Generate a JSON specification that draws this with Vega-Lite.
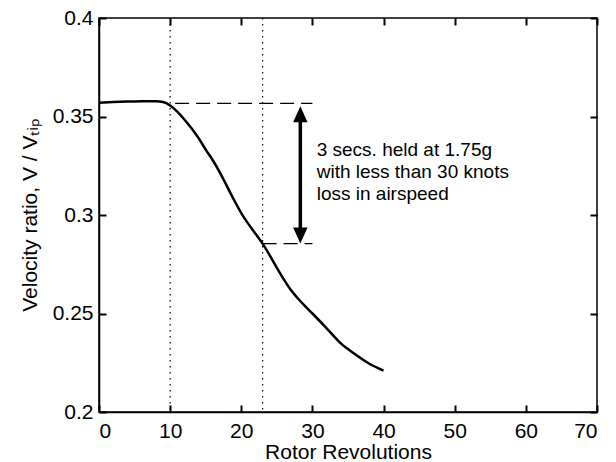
{
  "$schema": "https://vega.github.io/schema/vega-lite/v6.json",
  "width": 498,
  "height": 394,
  "autosize": "none",
  "padding": {"left": 99, "top": 18, "right": 19, "bottom": 50},
  "background": "white",
  "config": {
    "view": {"stroke": "black", "strokeWidth": 1.5},
    "font": "Liberation Sans",
    "axis": {
      "grid": false,
      "domainColor": "black",
      "domainWidth": 1.5,
      "labelColor": "black",
      "titleColor": "black",
      "labelFont": "Liberation Sans",
      "titleFont": "Liberation Sans",
      "labelFontSize": 21,
      "titleFontSize": 21,
      "titleFontWeight": "normal"
    }
  },
  "datasets": {
    "curve": [
      {"rev": 0, "ratio": 0.3570},
      {"rev": 2, "ratio": 0.3573},
      {"rev": 4, "ratio": 0.3576},
      {"rev": 6, "ratio": 0.3578},
      {"rev": 8, "ratio": 0.3578},
      {"rev": 9, "ratio": 0.3574},
      {"rev": 10, "ratio": 0.3556},
      {"rev": 11, "ratio": 0.3525},
      {"rev": 12, "ratio": 0.3485},
      {"rev": 13, "ratio": 0.3440},
      {"rev": 14, "ratio": 0.3390},
      {"rev": 15, "ratio": 0.3332},
      {"rev": 16, "ratio": 0.3278},
      {"rev": 17, "ratio": 0.3215},
      {"rev": 18, "ratio": 0.3145},
      {"rev": 19, "ratio": 0.3075},
      {"rev": 20, "ratio": 0.3010},
      {"rev": 21, "ratio": 0.2955},
      {"rev": 22, "ratio": 0.2905},
      {"rev": 23, "ratio": 0.2855},
      {"rev": 24, "ratio": 0.2795},
      {"rev": 25, "ratio": 0.2732},
      {"rev": 26, "ratio": 0.2672},
      {"rev": 27, "ratio": 0.2618},
      {"rev": 28, "ratio": 0.2575},
      {"rev": 29, "ratio": 0.2536},
      {"rev": 30, "ratio": 0.2500},
      {"rev": 32, "ratio": 0.2425},
      {"rev": 34, "ratio": 0.2348},
      {"rev": 36, "ratio": 0.2293},
      {"rev": 38, "ratio": 0.2245},
      {"rev": 40, "ratio": 0.2210}
    ],
    "vlines": [{"rev": 10}, {"rev": 23}],
    "hlines": [
      {"from": 10.7, "to": 30, "ratio": 0.3567},
      {"from": 23, "to": 30, "ratio": 0.2855}
    ],
    "shaft": [{"rev": 28.3, "top": 0.3511, "bottom": 0.2896}],
    "headUp": [{"rev": 28.3, "ratio": 0.3511}],
    "headDown": [{"rev": 28.3, "ratio": 0.2896}],
    "note": [{"rev": 30.6, "ratio": 0.3298, "label": ["3 secs. held at 1.75g", "with less than 30 knots", "loss in airspeed"]}]
  },
  "resolve": {"axis": {"x": "independent", "y": "independent"}},
  "layer": [
    {
      "data": {"name": "hlines"},
      "mark": {"type": "rule", "color": "black", "strokeWidth": 1.2, "strokeDash": [14, 7]},
      "encoding": {
        "x": {"field": "from", "type": "quantitative", "scale": {"domain": [0, 70], "nice": false, "zero": false},
          "axis": {"orient": "bottom", "values": [0, 10, 20, 30, 40, 50, 60, 70], "ticks": true, "tickSize": -7, "tickWidth": 2, "tickColor": "black", "title": "Rotor Revolutions", "titlePadding": 0, "labelPadding": 15}},
        "x2": {"field": "to"},
        "y": {"field": "ratio", "type": "quantitative", "scale": {"domain": [0.2, 0.4], "nice": false, "zero": false},
          "axis": {"orient": "left", "values": [0.2, 0.25, 0.3, 0.35, 0.4], "format": "~g", "ticks": true, "tickSize": -7, "tickWidth": 2, "tickColor": "black", "title": "Velocity ratio, V / Vₜᵢₚ", "titlePadding": 12, "labelPadding": 13}}
      }
    },
    {
      "data": {"name": "curve"},
      "mark": {"type": "line", "color": "black", "strokeWidth": 2.5, "interpolate": "monotone"},
      "encoding": {
        "x": {"field": "rev", "type": "quantitative",
          "axis": {"orient": "top", "values": [0, 10, 20, 30, 40, 50, 60, 70], "ticks": true, "tickSize": -7, "tickWidth": 2, "tickColor": "black", "labels": false, "domain": false, "title": null}},
        "y": {"field": "ratio", "type": "quantitative",
          "axis": {"orient": "right", "values": [0.2, 0.25, 0.3, 0.35, 0.4], "ticks": true, "tickSize": -7, "tickWidth": 2, "tickColor": "black", "labels": false, "domain": false, "title": null}}
      }
    },
    {
      "data": {"name": "vlines"},
      "mark": {"type": "rule", "color": "black", "strokeWidth": 1.2, "strokeDash": [1.5, 4.5]},
      "encoding": {
        "x": {"field": "rev", "type": "quantitative", "axis": null}
      }
    },
    {
      "data": {"name": "shaft"},
      "mark": {"type": "rule", "color": "black", "strokeWidth": 3.5},
      "encoding": {
        "x": {"field": "rev", "type": "quantitative", "axis": null},
        "y": {"field": "top", "type": "quantitative", "axis": null},
        "y2": {"field": "bottom"}
      }
    },
    {
      "data": {"name": "headUp"},
      "mark": {"type": "point", "shape": "M0,-1L0.9,1L-0.9,1Z", "filled": true, "color": "black", "opacity": 1, "size": 256},
      "encoding": {
        "x": {"field": "rev", "type": "quantitative", "axis": null},
        "y": {"field": "ratio", "type": "quantitative", "axis": null}
      }
    },
    {
      "data": {"name": "headDown"},
      "mark": {"type": "point", "shape": "M0,1L0.9,-1L-0.9,-1Z", "filled": true, "color": "black", "opacity": 1, "size": 256},
      "encoding": {
        "x": {"field": "rev", "type": "quantitative", "axis": null},
        "y": {"field": "ratio", "type": "quantitative", "axis": null}
      }
    },
    {
      "data": {"name": "note"},
      "mark": {"type": "text", "align": "left", "baseline": "alphabetic", "fontSize": 19, "lineHeight": 22, "color": "black", "font": "Liberation Sans"},
      "encoding": {
        "x": {"field": "rev", "type": "quantitative", "axis": null},
        "y": {"field": "ratio", "type": "quantitative", "axis": null},
        "text": {"field": "label"}
      }
    }
  ]
}
